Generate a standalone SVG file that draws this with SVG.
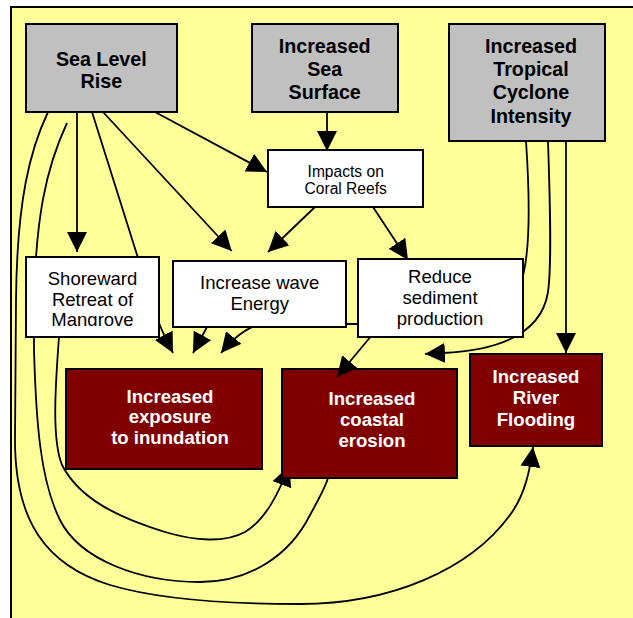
<svg xmlns="http://www.w3.org/2000/svg" width="633" height="618" viewBox="0 0 633 618">
<style>
.frame{fill:#FFFF99;stroke:#000;stroke-width:2}
.gray rect{fill:#C0C0C0;stroke:#000;stroke-width:2}
.white rect{fill:#FFFFFF;stroke:#000;stroke-width:2}
.red rect{fill:#800000;stroke:#000;stroke-width:2}
text{font-family:"Liberation Sans",Arial,sans-serif;text-anchor:middle}
.gray text{font-weight:bold;font-size:19.7px;fill:#000}
.white text{font-size:18.5px;fill:#000}
.white text.small{font-size:15.6px}
.red text{font-weight:bold;font-size:18.6px;fill:#FFFFFF}
#connectors path{fill:none;stroke:#000;stroke-width:1.8}
#connectors path.arr{marker-end:url(#ah)}
</style>
<defs>
<marker id="ah" markerUnits="userSpaceOnUse" markerWidth="20" markerHeight="20" viewBox="0 0 20 20" refX="20" refY="10" orient="auto">
<path d="M0,0 L20,10 L0,20 Z" fill="#000"/>
</marker>
<clipPath id="notErosion">
<path clip-rule="evenodd" d="M0,0H633V618H0Z M282,369V478H457V369Z"/>
</clipPath>
<clipPath id="clipShore">
<rect x="26" y="257" width="133" height="69"/>
</clipPath>
</defs>
<rect class="frame" x="11" y="7" width="640" height="630"/>

<g id="node-inundation" class="red">
<rect x="66" y="369" width="196" height="100"/>
<text x="170" y="402.7">Increased</text>
<text x="170" y="423.3">exposure</text>
<text x="170" y="444">to inundation</text>
</g>
<g id="node-erosion" class="red">
<rect x="282" y="369" width="175" height="109"/>
<text x="372" y="405">Increased</text>
<text x="372" y="425.5">coastal</text>
<text x="372" y="446.7">erosion</text>
</g>
<g id="node-flooding" class="red">
<rect x="470" y="354" width="132" height="92"/>
<text x="536" y="383.3">Increased</text>
<text x="536" y="404.3">River</text>
<text x="536" y="425.7">Flooding</text>
</g>

<g id="connectors">
<path class="arr" d="M77,112 L77,252"/>
<path class="arr" d="M92,112 L156,315 Q161,330 173,353"/>
<path class="arr" d="M103,112 L231.7,251"/>
<path class="arr" d="M155,112 L267,172"/>
<path class="arr" d="M327,112 L327,151"/>
<path class="arr" d="M315,207 L268,252"/>
<path class="arr" d="M373,207 L408,260"/>
<path class="arr" d="M207,327 L193,353"/>
<path class="arr" d="M372,335 L337,377"/>
<path class="arr" d="M566,141 L566,353"/>
<path class="arr" d="M526,141 C530,200 530,260 520,285 C505,318 470,324 420,324 L265,324 C250,325 235,336 221,353"/>
<path class="arr" d="M548,141 C550,200 552,265 548,292 C542,330 505,350 443,353 L425,354"/>
<path class="arr" d="M48,112 C30,150 17,200 16,300 L15,440 C15,520 45,565 110,585 C160,600 230,604 300,604 C390,604 470,570 510,515 C525,495 530,470 533,447"/>
<path d="M67,123 C45,170 36,220 34,300 L34,350 C36,420 40,480 60,520 C80,560 140,582 200,582 C250,582 290,555 310,515 C320,497 326,485 328,478"/>
<path class="arr" clip-path="url(#notErosion)" d="M59,337 C55,390 52,440 62,465 C80,500 120,518 165,532 C195,541 225,543 245,532 C265,520 278,495 289,466"/>
</g>

<g id="node-sealevel" class="gray">
<rect x="26" y="24" width="151" height="88"/>
<text x="101.3" y="65.7">Sea Level</text>
<text x="101.3" y="88.2">Rise</text>
</g>
<g id="node-seasurface" class="gray">
<rect x="252" y="24" width="146" height="88"/>
<text x="324.7" y="52.7">Increased</text>
<text x="324.7" y="76">Sea</text>
<text x="324.7" y="99.2">Surface</text>
</g>
<g id="node-cyclone" class="gray">
<rect x="449" y="24" width="156" height="117"/>
<text x="531" y="52.7">Increased</text>
<text x="531" y="76.3">Tropical</text>
<text x="531" y="99.3">Cyclone</text>
<text x="531" y="122.5">Intensity</text>
</g>
<g id="node-coral" class="white">
<rect x="268" y="150" width="155" height="57"/>
<text class="small" x="345.7" y="176.5">Impacts on</text>
<text class="small" x="345.7" y="194.3">Coral Reefs</text>
</g>
<g id="node-shoreward" class="white">
<rect x="26" y="257" width="133" height="80"/>
<g clip-path="url(#clipShore)">
<text x="92.5" y="285">Shoreward</text>
<text x="92.5" y="305.5">Retreat of</text>
<text x="92.5" y="326">Mangrove</text>
</g>
</g>
<g id="node-wave" class="white">
<rect x="173" y="261" width="173" height="66"/>
<text x="259.7" y="289">Increase wave</text>
<text x="259.7" y="310">Energy</text>
</g>
<g id="node-sediment" class="white">
<rect x="358" y="259" width="165" height="78"/>
<text x="440" y="282.7">Reduce</text>
<text x="440" y="304">sediment</text>
<text x="440" y="325.3">production</text>
</g>
</svg>
